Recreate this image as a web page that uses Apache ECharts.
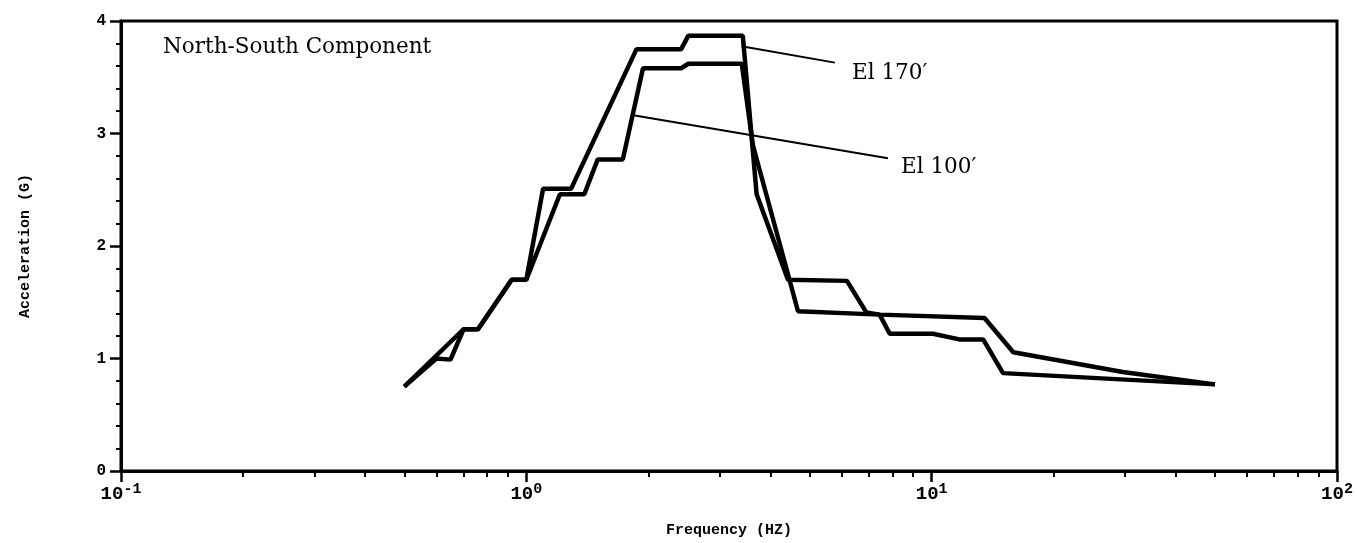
<!DOCTYPE html>
<html>
<head>
<meta charset="utf-8">
<script src="https://cdn.jsdelivr.net/npm/echarts@6/dist/echarts.min.js"></script>
<style>
  html, body { margin: 0; padding: 0; background: #fff; }
  #chart { width: 1357px; height: 543px; }
</style>
</head>
<body>
<div id="chart"></div>
<script>
// El 170' response spectrum (frequency Hz, acceleration G)
const freq170 = [0.5, 0.7, 0.76, 0.92, 1.0, 1.1, 1.29, 1.87, 2.41, 2.51, 3.42, 3.7, 4.42, 6.18, 6.9, 7.44, 7.88, 10.07, 11.7, 13.4, 15.0, 50];
const acc170  = [0.75, 1.26, 1.26, 1.70, 1.70, 2.51, 2.51, 3.75, 3.75, 3.87, 3.87, 2.46, 1.70, 1.69, 1.41, 1.39, 1.22, 1.22, 1.17, 1.17, 0.87, 0.77];

// El 100'
const freq100 = [0.5, 0.6, 0.65, 0.7, 0.76, 0.92, 1.0, 1.21, 1.39, 1.5, 1.73, 1.94, 2.41, 2.51, 3.4, 3.62, 4.68, 7.44, 13.5, 15.9, 29.6, 50];
const acc100  = [0.75, 1.0, 0.99, 1.26, 1.26, 1.70, 1.70, 2.46, 2.46, 2.77, 2.77, 3.58, 3.58, 3.62, 3.62, 2.90, 1.42, 1.39, 1.36, 1.055, 0.88, 0.77];

// axis ticks
const xMajorTicks = [0.1, 1, 10, 100];
const xTickExps = ['-1', '0', '1', '2'];
const xMinorTicks = [];
[0.1, 1, 10].forEach(d => { for (let k = 2; k <= 9; k++) xMinorTicks.push(+(d * k).toPrecision(3)); });

// leader lines for the curve labels: [from, to] in data coords
const leader170 = [[3.395, 3.775], [5.77, 3.63]];
const leader100 = [[1.852, 3.16], [7.80, 2.78]];

const zip = (xs, ys) => xs.map((x, i) => [x, ys[i]]);

const chart = echarts.init(document.getElementById('chart'));

const monoBold = { fontFamily: 'Liberation Mono', fontWeight: 'bold', color: '#000' };
const serif = 'DejaVu Serif';

chart.setOption({
  animation: false,
  backgroundColor: '#fff',
  grid: {
    left: 121, right: 20, top: 21, bottom: 66,
    show: true, borderColor: '#000', borderWidth: 3
  },
  xAxis: [{
    type: 'log', logBase: 10, min: 0.1, max: 100,
    name: 'Frequency (HZ)', nameLocation: 'middle', nameGap: 52,
    nameTextStyle: Object.assign({ fontSize: 15 }, monoBold),
    axisLine: { lineStyle: { color: '#000', width: 3 } },
    axisTick: { customValues: xMajorTicks, length: 11, lineStyle: { color: '#000', width: 2.5 } },
    axisLabel: {
      customValues: xMajorTicks, margin: 11,
      formatter: v => {
        const i = xMajorTicks.findIndex(t => Math.abs(t - v) < 1e-9 * t);
        return '{b|10}{s|' + xTickExps[i] + '}';
      },
      rich: {
        b: Object.assign({ fontSize: 19 }, monoBold),
        s: Object.assign({ fontSize: 15, verticalAlign: 'top', padding: [0, 0, 9, 0] }, monoBold)
      }
    },
    splitLine: { show: false }
  }, {
    type: 'log', logBase: 10, min: 0.1, max: 100, position: 'bottom',
    axisLine: { show: false },
    axisTick: { customValues: xMinorTicks, length: 6, lineStyle: { color: '#000', width: 2 } },
    axisLabel: { show: false },
    splitLine: { show: false }
  }],
  yAxis: {
    type: 'value', min: 0, max: 4, interval: 1,
    name: 'Acceleration (G)', nameLocation: 'middle', nameGap: 88,
    nameTextStyle: Object.assign({ fontSize: 15 }, monoBold),
    axisLine: { show: true, lineStyle: { color: '#000', width: 3 } },
    axisTick: { show: true, length: 11, lineStyle: { color: '#000', width: 2.5 } },
    minorTick: { show: true, splitNumber: 5, length: 5, lineStyle: { color: '#000', width: 2 } },
    axisLabel: Object.assign({ fontSize: 16, margin: 15 }, monoBold),
    splitLine: { show: false }
  },
  series: [{
    name: "El 170'",
    type: 'line', showSymbol: false, symbol: 'none',
    lineStyle: { color: '#000', width: 4.5 },
    data: zip(freq170, acc170),
    markLine: {
      silent: true, symbol: 'none', label: { show: false },
      lineStyle: { color: '#000', width: 2, type: 'solid' },
      data: [
        [{ coord: leader170[0] }, { coord: leader170[1] }],
        [{ coord: leader100[0] }, { coord: leader100[1] }]
      ]
    }
  }, {
    name: "El 100'",
    type: 'line', showSymbol: false, symbol: 'none',
    lineStyle: { color: '#000', width: 4.5 },
    data: zip(freq100, acc100)
  }],
  graphic: [
    { type: 'text', left: 163, top: 36, style: { text: 'North-South Component', font: '21.5px "' + serif + '"', fill: '#000' } },
    { type: 'text', left: 852, top: 62, style: { text: 'El 170\u2032', font: '21.5px "' + serif + '"', fill: '#000' } },
    { type: 'text', left: 901, top: 156, style: { text: 'El 100\u2032', font: '21.5px "' + serif + '"', fill: '#000' } }
  ]
});
</script>
</body>
</html>
